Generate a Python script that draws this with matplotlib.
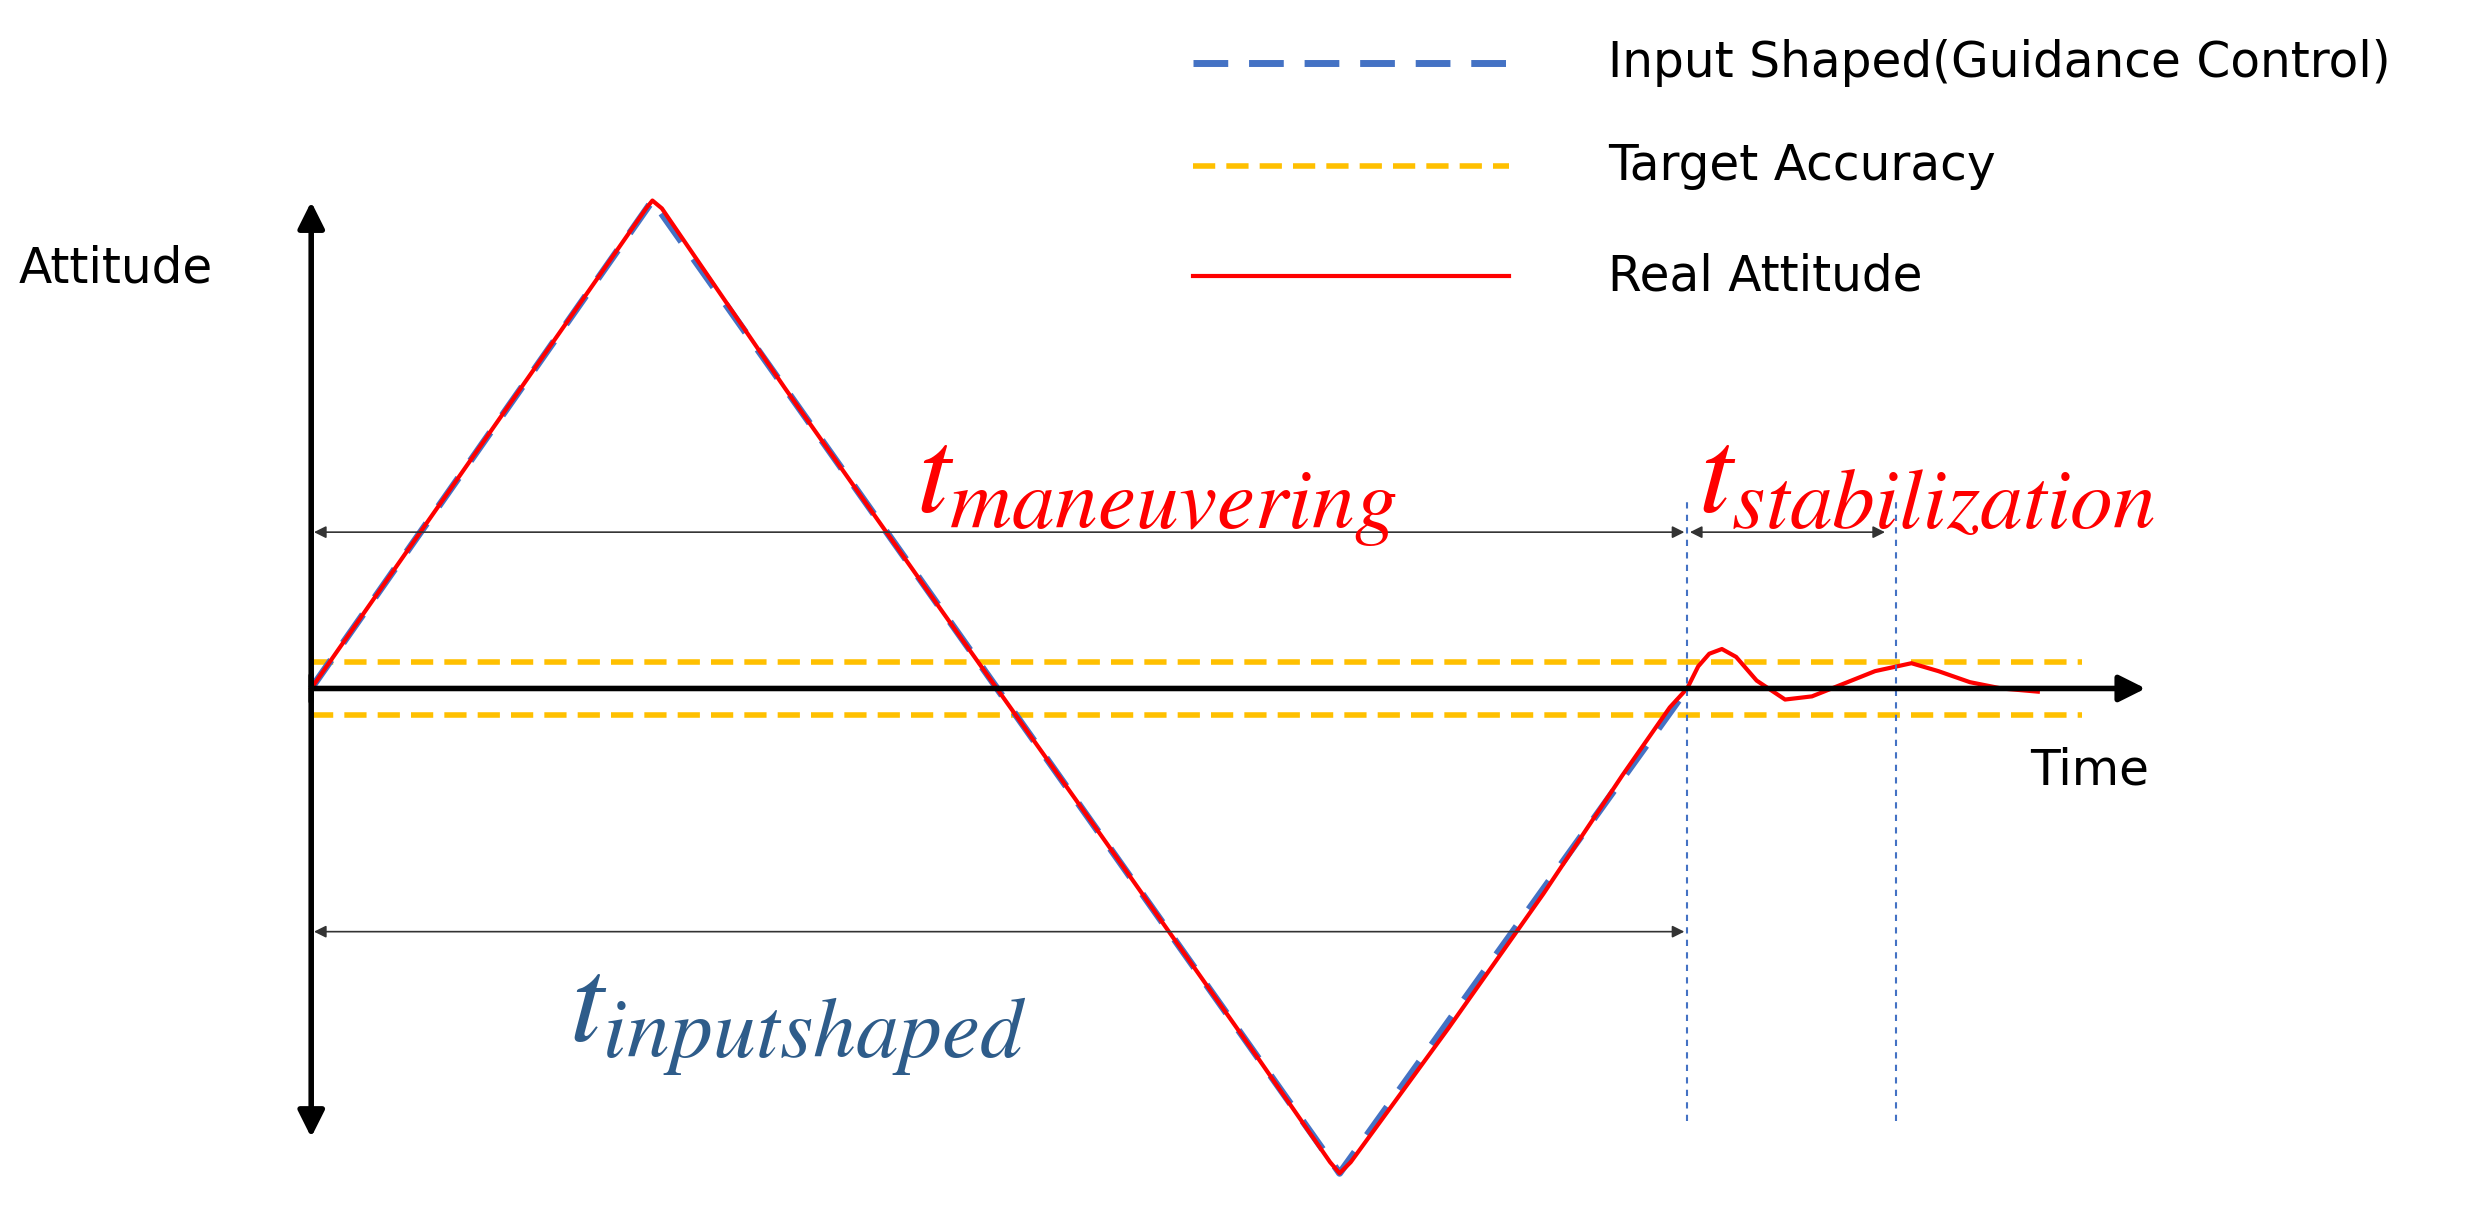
import numpy as np
import matplotlib.pyplot as plt

plt.rcParams['mathtext.fontset'] = 'stix'

# time / attitude in arbitrary units (origin at axes crossing)
t_shaped = [0, 216, 651, 871]
a_shaped = [0, 309, -307, 0]

t_real = [0, 60, 120, 180, 212, 216, 222, 300, 400, 500, 600, 645, 651, 658, 720, 780, 830, 860,
          871, 878, 885, 893, 902, 915, 933, 950, 970, 990, 1013, 1030, 1050, 1070, 1093]
a_real = [0, 86, 172, 258, 304, 309, 304, 190, 48, -93, -235, -300, -307, -300, -215, -130, -55, -12,
          0, 14, 22, 25, 20, 5, -7, -5, 3, 11, 16, 11, 4, 0, -2]

acc_band = 17
t_end_shaped = 871
t_end_stab = 1003

fig = plt.figure(figsize=(24.77, 12.08), dpi=100)
ax = fig.add_axes([0, 0, 1, 1])
ax.set_xlim(-197, 1371)
ax.set_ylim(-329, 436)
ax.axis('off')

# axes arrows
ax.annotate('', xy=(1163, 0), xytext=(0, 0),
            arrowprops=dict(arrowstyle='-|>', lw=4, color='black', mutation_scale=40))
ax.annotate('', xy=(0, 310), xytext=(0, -10),
            arrowprops=dict(arrowstyle='-|>', lw=4, color='black', mutation_scale=40))
ax.annotate('', xy=(0, -286), xytext=(0, 10),
            arrowprops=dict(arrowstyle='-|>', lw=4, color='black', mutation_scale=40))

# target accuracy
for y in [acc_band, -acc_band]:
    ax.plot([0, 1121], [y, y], color='#FFC000', lw=4, ls=(0, (4, 2)))

ax.plot(t_shaped, a_shaped, color='#4472C4', lw=5, ls=(0, (5, 3)))
ax.plot(t_real, a_real, color='#FF0000', lw=3)

# vertical markers
for tv in [t_end_shaped, t_end_stab]:
    ax.plot([tv, tv], [-274, 121], color='#4472C4', lw=1.5, ls=(0, (3, 3)))

arrow = dict(arrowstyle='<|-|>', lw=1.2, color='#333333', mutation_scale=18)
ax.annotate('', xy=(0, 99), xytext=(t_end_shaped, 99), arrowprops=arrow)
ax.annotate('', xy=(t_end_shaped, 99), xytext=(t_end_stab - 5, 99), arrowprops=arrow)
ax.annotate('', xy=(0, -154), xytext=(t_end_shaped, -154), arrowprops=arrow)

ax.text(383, 111, r'$t_{maneuvering}$', color='#FF0000', fontsize=88, ha='left', va='baseline')
ax.text(878, 111, r'$t_{stabilization}$', color='#FF0000', fontsize=88, ha='left', va='baseline')
ax.text(163, -224, r'$t_{inputshaped}$', color='#2E5C8A', fontsize=88, ha='left', va='baseline')

ax.text(-185, 266, 'Attitude', fontsize=35, ha='left', va='center')
ax.text(1088, -52, 'Time', fontsize=35, ha='left', va='center')

# legend
leg_y = [396, 331, 261]
leg_lab = ['Input Shaped(Guidance Control)', 'Target Accuracy', 'Real Attitude']
leg_sty = [dict(color='#4472C4', lw=5, ls=(0, (5, 3))),
           dict(color='#FFC000', lw=4, ls=(0, (4, 2))),
           dict(color='#FF0000', lw=3)]
for y, lab, st in zip(leg_y, leg_lab, leg_sty):
    ax.plot([558, 758], [y, y], **st)
    ax.text(821, y, lab, fontsize=35, ha='left', va='center')

fig.savefig('out.png', dpi=100)
